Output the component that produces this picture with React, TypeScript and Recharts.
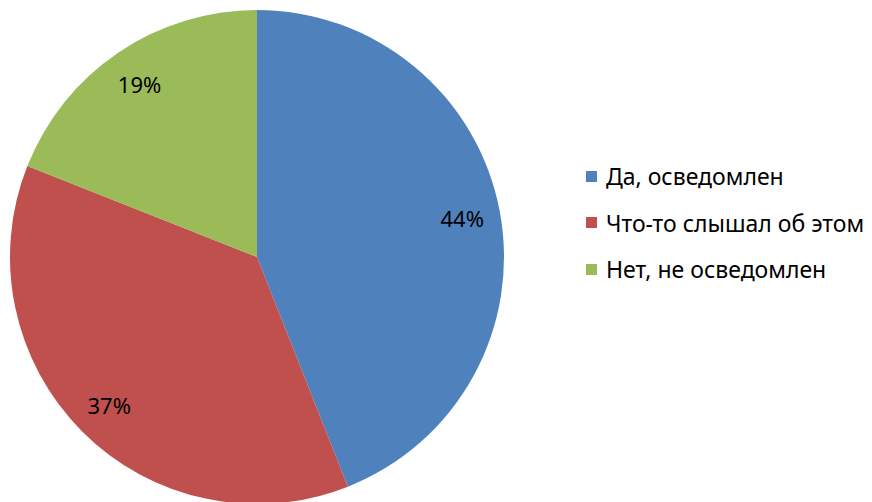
import { Cell, Legend, Pie, PieChart } from 'recharts'

// Ответы на вопрос об осведомлённости, доли в процентах.
const categories = ['Да, осведомлен', 'Что-то слышал об этом', 'Нет, не осведомлен']
const shares = [44, 37, 19]
const colors = ['#4F81BD', '#C0504D', '#9BBB59']

const data = categories.map((name, i) => ({ name, value: shares[i] }))

const FONT = '"Noto Sans", "Liberation Sans", sans-serif'
const RADIAN = Math.PI / 180

// Подписи внутри секторов, ближе к краю, как в исходной диаграмме.
function renderLabel({ cx, cy, midAngle, outerRadius, value }: any) {
  const r = outerRadius * 0.846
  const x = cx + r * Math.cos(-midAngle * RADIAN)
  const y = cy + r * Math.sin(-midAngle * RADIAN)
  return (
    <text x={x} y={y} fill="#000" textAnchor="middle" dominantBaseline="central" fontSize={22} fontFamily={FONT}>
      {value}%
    </text>
  )
}

function renderLegend() {
  return (
    <ul style={{ listStyle: 'none', margin: 0, padding: 0, fontFamily: FONT, fontSize: 23 }}>
      {categories.map((name, i) => (
        <li key={name} style={{ display: 'flex', alignItems: 'center', height: 46.5 }}>
          <span style={{ display: 'inline-block', width: 11, height: 11, background: colors[i], marginRight: 9 }} />
          <span style={{ color: '#000' }}>{name}</span>
        </li>
      ))}
    </ul>
  )
}

export default function App() {
  return (
    <div style={{ position: 'fixed', top: 0, left: 0, background: '#fff' }}>
      <PieChart width={872} height={502} margin={{ top: 0, right: 0, bottom: 0, left: 0 }}>
        <Pie
          data={data}
          dataKey="value"
          cx={257}
          cy={257}
          outerRadius={247}
          startAngle={90}
          endAngle={-270}
          stroke="none"
          label={renderLabel}
          labelLine={false}
          isAnimationActive={false}
        >
          {data.map((d, i) => (
            <Cell key={d.name} fill={colors[i]} />
          ))}
        </Pie>
        <Legend
          layout="vertical"
          align="right"
          verticalAlign="top"
          wrapperStyle={{ left: 586, top: 153, width: 286 }}
          content={renderLegend}
        />
      </PieChart>
    </div>
  )
}
